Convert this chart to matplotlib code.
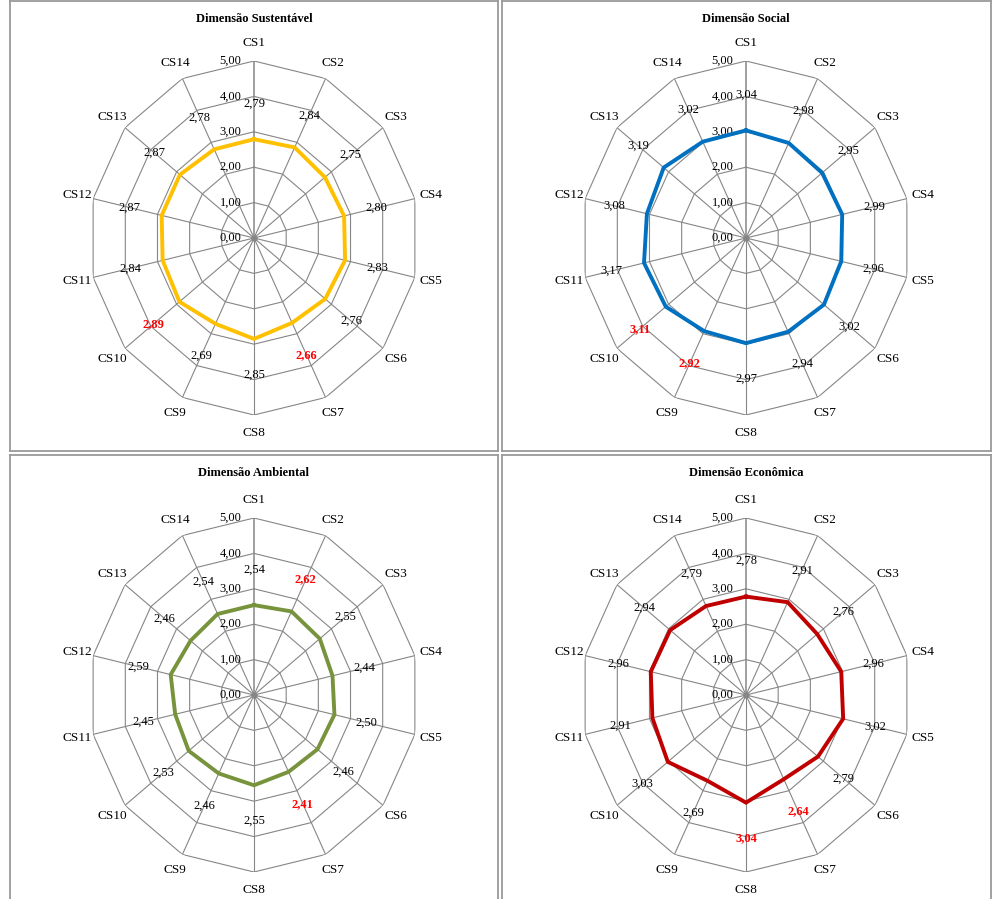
import matplotlib
matplotlib.use("Agg")
import matplotlib.pyplot as plt
import numpy as np

plt.rcParams['font.family'] = ['Liberation Serif', 'DejaVu Serif']

# --- data ---
criterios = [f"CS{i}" for i in range(1, 15)]
escala = [0, 1, 2, 3, 4, 5]

sustentavel = [2.79, 2.84, 2.75, 2.80, 2.83, 2.76, 2.66, 2.85, 2.69, 2.89, 2.84, 2.87, 2.87, 2.78]
social = [3.04, 2.98, 2.95, 2.99, 2.96, 3.02, 2.94, 2.97, 2.92, 3.11, 3.17, 3.08, 3.19, 3.02]
ambiental = [2.54, 2.62, 2.55, 2.44, 2.50, 2.46, 2.41, 2.55, 2.46, 2.53, 2.45, 2.59, 2.46, 2.54]
economica = [2.78, 2.91, 2.76, 2.96, 3.02, 2.79, 2.64, 3.04, 2.69, 3.03, 2.91, 2.96, 2.94, 2.79]

# labels drawn in red (index into criterios)
dest_sustentavel = [6, 9]
dest_social = [8, 9]
dest_ambiental = [1, 6]
dest_economica = [6, 7]

W, H = 993, 899
GRID = '#868686'


def fx(x):
    return x / W


def fy(y):
    return 1 - y / H


def radar(box, centre, valores, cor, titulo, destaques):
    """One bordered panel with a 14-axis radar chart."""
    x0, y0, x1, y1 = box
    frame = fig.add_axes([fx(x0), fy(y1), fx(x1 - x0), (y1 - y0) / H])
    frame.set_xticks([])
    frame.set_yticks([])
    for s in frame.spines.values():
        s.set_color('#9a9a9a')
        s.set_linewidth(1.3)
    frame.set_zorder(0)
    fig.text(fx(centre[0]), fy(y0 + 18), titulo, ha='center', va='center',
             fontsize=9, fontweight='bold')

    cx, cy = centre
    rx, ry = 165, 177
    ax = fig.add_axes([fx(cx - rx), fy(cy + ry), fx(2 * rx), 2 * ry / H],
                      projection='polar')
    ax.set_aspect('auto')
    ax.set_theta_offset(np.pi / 2)
    ax.set_theta_direction(-1)
    ax.set_ylim(0, 5)
    ax.grid(False)
    ax.spines['polar'].set_visible(False)
    ax.set_xticks([])
    ax.set_yticks([])
    ax.patch.set_alpha(0)

    n = len(criterios)
    ang = np.linspace(0, 2 * np.pi, n, endpoint=False)
    ang_c = np.append(ang, ang[0])

    # polygon grid + spokes
    for lvl in escala[1:]:
        ax.plot(ang_c, [lvl] * (n + 1), color=GRID, lw=0.8, zorder=1)
    for i, a in enumerate(ang):
        ax.plot([a, a], [0, 5], color=GRID, lw=1.1 if i == 0 else 0.8, zorder=1)
    ax.plot([0], [0], 'o', color=GRID, ms=3.5, zorder=2)

    for lvl in escala:
        ax.annotate(f"{lvl:.2f}".replace('.', ','), (0, lvl), xytext=(-9, 0),
                    textcoords='offset points', ha='right', va='center',
                    fontsize=9, annotation_clip=False)

    for a, lab in zip(ang, criterios):
        ax.text(a, 5.5, lab, ha='center', va='center', fontsize=9.5)

    vals = np.append(valores, valores[0])
    ax.plot(ang_c, vals, color=cor, lw=2.8, zorder=3, solid_joinstyle='miter')

    for i, (a, v) in enumerate(zip(ang, valores)):
        txt = f"{v:.2f}".replace('.', ',')
        if i in destaques:
            ax.text(a, v + 1.0, txt, ha='center', va='center', fontsize=9,
                    color='red', fontweight='bold', zorder=4)
        else:
            ax.text(a, v + 1.0, txt, ha='center', va='center', fontsize=9, zorder=4)


fig = plt.figure(figsize=(W / 100, H / 100), dpi=100)

radar((10, 1, 498, 451), (254, 238), sustentavel, '#FFC000', 'Dimensão Sustentável', dest_sustentavel)
radar((502, 1, 991, 451), (746, 238), social, '#0070C0', 'Dimensão Social', dest_social)
radar((10, 455, 498, 910), (254, 695), ambiental, '#77933C', 'Dimensão Ambiental', dest_ambiental)
radar((502, 455, 991, 910), (746, 695), economica, '#C00000', 'Dimensão Econômica', dest_economica)

fig.savefig('out.png', dpi=100)
